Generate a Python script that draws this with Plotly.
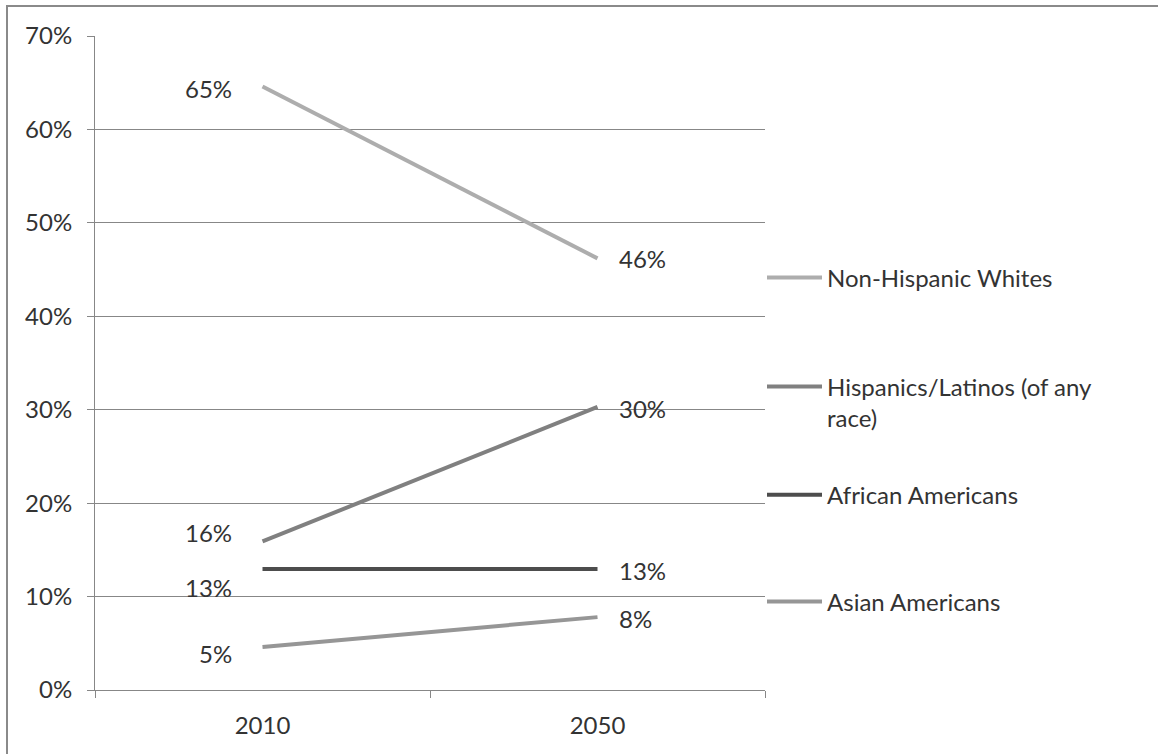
import plotly.graph_objects as go

years = ["2010", "2050"]
series_names = ["Non-Hispanic Whites", "Hispanics/Latinos (of any<br>race)",
                "African Americans", "Asian Americans"]
whites = [0.646, 0.462]
hispanics = [0.159, 0.303]
african = [0.1295, 0.1295]
asian = [0.046, 0.078]
y_ticks = [0, 0.1, 0.2, 0.3, 0.4, 0.5, 0.6, 0.7]

all_values = [whites, hispanics, african, asian]
colors = ["#adadad", "#808080", "#4d4d4d", "#969696"]
legends = ["legend", "legend2", "legend3", "legend4"]
# label offsets (left label yshift, right label yshift)
label_yshift = [(-2, 0), (9, -2), (-18, -1), (-6, -1)]

FONT = "Lato"
TXT = "#333333"
GRID = "#878787"

fig = go.Figure()
for name, vals, col, lg in zip(series_names, all_values, colors, legends):
    fig.add_trace(go.Scatter(x=years, y=vals, mode="lines", name=name,
                             line=dict(color=col, width=4), legend=lg,
                             hoverinfo="skip"))

annotations = []
for vals, (ysl, ysr) in zip(all_values, label_yshift):
    annotations.append(dict(x=0, y=vals[0], xref="x", yref="y",
                            text=f"{round(vals[0]*100):.0f}%", showarrow=False,
                            xanchor="right", yanchor="middle", xshift=-29, yshift=ysl,
                            font=dict(family=FONT, size=24, color=TXT)))
    annotations.append(dict(x=1, y=vals[1], xref="x", yref="y",
                            text=f"{round(vals[1]*100):.0f}%", showarrow=False,
                            xanchor="left", yanchor="middle", xshift=19, yshift=ysr,
                            font=dict(family=FONT, size=24, color=TXT)))

leg_common = dict(x=1.0 - 3 / 670, xanchor="left", bgcolor="rgba(0,0,0,0)", borderwidth=0,
                  font=dict(family=FONT, size=24, color=TXT), itemwidth=55,
                  tracegroupgap=0)

fig.update_layout(
    width=1158, height=754,
    margin=dict(l=95, r=393, t=36, b=64),
    paper_bgcolor="white", plot_bgcolor="white",
    font=dict(family=FONT, size=24, color=TXT),
    showlegend=True,
    legend=dict(**leg_common, y=0.630, yanchor="middle"),
    legend2=dict(**leg_common, y=0.498, yanchor="top", valign="top"),
    legend3=dict(**leg_common, y=0.298, yanchor="middle"),
    legend4=dict(**leg_common, y=0.1346, yanchor="middle"),
    xaxis=dict(type="category", range=[-0.5, 1.5], showgrid=False,
               showline=True, linecolor=GRID, linewidth=1,
               ticks="outside", tickson="boundaries", ticklen=7, tickcolor=GRID,
               ticklabelstandoff=14,
               tickfont=dict(family=FONT, size=24, color=TXT), fixedrange=True),
    yaxis=dict(range=[0, 0.7], tickvals=y_ticks, tickformat=".0%",
               showgrid=True, gridcolor=GRID, gridwidth=1,
               showline=True, linecolor=GRID, linewidth=1,
               ticks="outside", ticklen=7, tickcolor=GRID,
               ticklabelstandoff=10, zeroline=False,
               tickfont=dict(family=FONT, size=24, color=TXT), fixedrange=True),
    annotations=annotations,
    shapes=[dict(type="rect", xref="paper", yref="paper",
                 x0=(7 - 95) / 670, x1=1.7, y0=-0.3, y1=(690 - 6) / 654,
                 line=dict(color="#8a8a8a", width=2), fillcolor="rgba(0,0,0,0)",
                 layer="below")],
)

fig.write_html("out.html")
